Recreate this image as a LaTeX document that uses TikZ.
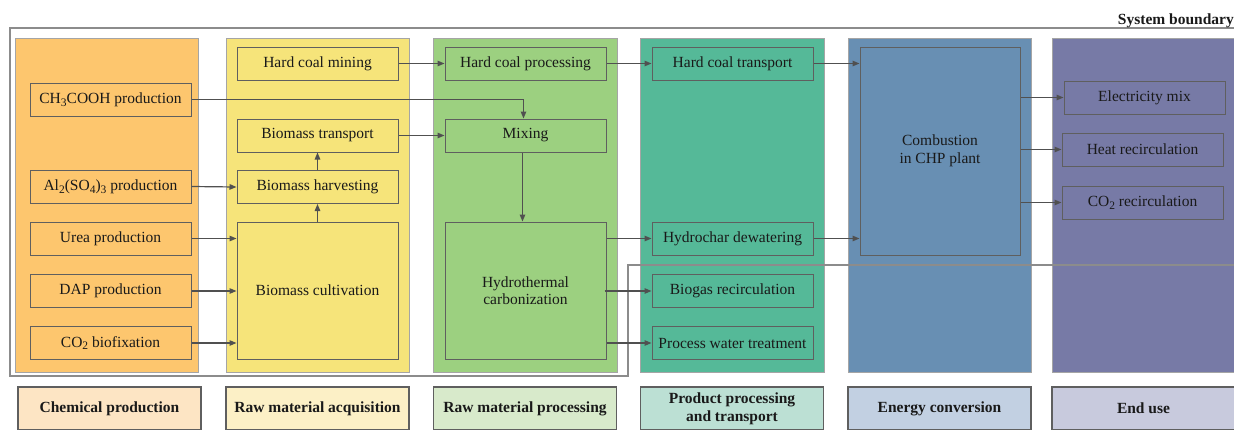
\documentclass[tikz,border=0pt]{standalone}
\usepackage{fontspec}
\setmainfont{Liberation Serif}
\usetikzlibrary{arrows.meta}
\definecolor{cA}{RGB}{253,198,110}
\definecolor{cB}{RGB}{246,228,122}
\definecolor{cC}{RGB}{156,208,128}
\definecolor{cD}{RGB}{85,185,152}
\definecolor{cE}{RGB}{104,143,179}
\definecolor{cF}{RGB}{119,122,166}
\definecolor{lA}{RGB}{253,229,196}
\definecolor{lB}{RGB}{252,240,198}
\definecolor{lC}{RGB}{216,234,203}
\definecolor{lD}{RGB}{188,224,212}
\definecolor{lE}{RGB}{194,208,226}
\definecolor{lF}{RGB}{200,202,221}
\definecolor{colgray}{RGB}{165,165,165}
\definecolor{boxgray}{RGB}{95,95,95}
\definecolor{arrgray}{RGB}{80,80,80}
\definecolor{bndgray}{RGB}{140,140,140}
\definecolor{txt}{RGB}{25,25,25}
\newcommand{\sbs}[1]{\raisebox{-0.4ex}{\fontsize{11.5}{12}\selectfont #1}}
\tikzset{
  col/.style={draw=colgray, line width=0.9pt},
  box/.style={draw=boxgray, line width=1pt, minimum width=161pt, minimum height=33pt,
    inner sep=1pt, font=\fontsize{15.5}{17.5}\selectfont, align=center, text=txt},
  lab/.style={draw=boxgray, line width=1.2pt, minimum width=183pt, minimum height=43pt,
    inner sep=1pt, font=\bfseries\fontsize{15.5}{17.5}\selectfont, align=center, text=txt},
  arr/.style={draw=arrgray, line width=1.2pt, -{Triangle[length=7pt,width=5.5pt]}},
  bound/.style={draw=bndgray, line width=1.2pt},
}
\begin{document}
\begin{tikzpicture}[x=1pt,y=-1pt]
\useasboundingbox (0,0) rectangle (1234,429);
% system boundary
\draw[bound] (1236,28) -- (10,28) -- (10,376) -- (628,376) -- (628,265) -- (1236,265);
\node[anchor=base east, inner sep=0pt, font=\bfseries\fontsize{15.5}{17.5}\selectfont, text=txt] (sb) at (1234,24) {System boundary};
% column backgrounds
\filldraw[col, fill=cA] (15,38) rectangle (198,372);
\filldraw[col, fill=cB] (226,38) rectangle (409,372);
\filldraw[col, fill=cC] (433,38) rectangle (617,372);
\filldraw[col, fill=cD] (640,38) rectangle (824,372);
\filldraw[col, fill=cE] (848,38) rectangle (1031,372);
\filldraw[col, fill=cF] (1052,38) rectangle (1240,372);
% redraw boundary segment over column backgrounds
\draw[bound] (628,265) -- (1236,265);
% column labels
\node[lab, fill=lA] (lab1) at (109.5,408.5) {Chemical production};
\node[lab, fill=lB] (lab2) at (317.5,408.5) {Raw material acquisition};
\node[lab, fill=lC] (lab3) at (525,408.5) {Raw material processing};
\node[lab, fill=lD, font=\bfseries\fontsize{15.5}{18}\selectfont] (lab4) at (732,408.5) {Product processing\\and transport};
\node[lab, fill=lE] (lab5) at (939.5,408.5) {Energy conversion};
\node[lab, fill=lF, minimum width=190pt] (lab6) at (1147,408.5) {\hspace*{-7pt}End use};
% column 1
\node[box, fill=cA] (ch3) at (110.5,99.5) {CH\sbs{3}COOH production};
\node[box, fill=cA] (al) at (110.5,186.5) {Al\sbs{2}(SO\sbs{4})\sbs{3} production};
\node[box, fill=cA] (urea) at (110.5,238.5) {Urea production};
\node[box, fill=cA] (dap) at (110.5,291) {DAP production};
\node[box, fill=cA] (bfx) at (110.5,343) {CO\sbs{2} biofixation};
% column 2
\node[box, fill=cB] (hcm) at (317.5,63.5) {Hard coal mining};
\node[box, fill=cB] (btr) at (317.5,135.5) {Biomass transport};
\node[box, fill=cB] (harv) at (317.5,187) {Biomass harvesting};
\node[box, fill=cB, minimum height=137pt] (cult) at (317.5,290.5) {Biomass cultivation};
% column 3
\node[box, fill=cC] (hcp) at (525.5,63.5) {Hard coal processing};
\node[box, fill=cC] (mix) at (525.5,135.5) {Mixing};
\node[box, fill=cC, minimum height=137pt] (htc) at (525.5,290.5) {Hydrothermal\\carbonization};
% column 4
\node[box, fill=cD] (hct) at (732.5,63.5) {Hard coal transport};
\node[box, fill=cD] (hyd) at (732.5,238.5) {Hydrochar dewatering};
\node[box, fill=cD] (bio) at (732.5,291) {Biogas recirculation};
\node[box, fill=cD] (pwt) at (732.5,343) {Process water treatment};
% column 5
\node[box, fill=cE, minimum width=160pt, minimum height=208pt] (comb) at (940,151) {Combustion\\in CHP plant};
% column 6
\node[box, fill=cF] (elec) at (1144.5,97.5) {Electricity mix};
\node[box, fill=cF] (heat) at (1142.5,149.5) {Heat recirculation};
\node[box, fill=cF] (co2) at (1142.5,202.5) {CO\sbs{2} recirculation};
% connectors
\draw[arr] (hcm.east) -- (hcp.west);
\draw[arr] (hcp.east) -- (hct.west);
\draw[arr] (hct.east) -- (hct.east -| comb.west);
\draw[arr] (ch3.east) -| ([xshift=-2pt]mix.north);
\draw[arr] (btr.east) -- (mix.west);
\draw[arr] (harv.north) -- (btr.south);
\draw[arr] (cult.north) -- (harv.south);
\draw[arr] (al.east) -- (harv.west);
\draw[arr] (urea.east) -- (urea.east -| cult.west);
\draw[arr] (dap.east) -- (dap.east -| cult.west);
\draw[arr] (bfx.east) -- (bfx.east -| cult.west);
\draw[arr] ([xshift=-3pt]mix.south) -- ([xshift=-3pt]htc.north);
\draw[arr] (htc.east |- hyd.west) -- (hyd.west);
\draw[arr] ([xshift=-2pt]htc.east |- bio.west) -- (bio.west);
\draw[arr] (htc.east |- pwt.west) -- (pwt.west);
\draw[arr] (hyd.east) -- (hyd.east -| comb.west);
\draw[arr] (comb.east |- elec.west) -- (elec.west);
\draw[arr] (comb.east |- heat.west) -- (heat.west);
\draw[arr] (comb.east |- co2.west) -- (co2.west);
\end{tikzpicture}
\end{document}
